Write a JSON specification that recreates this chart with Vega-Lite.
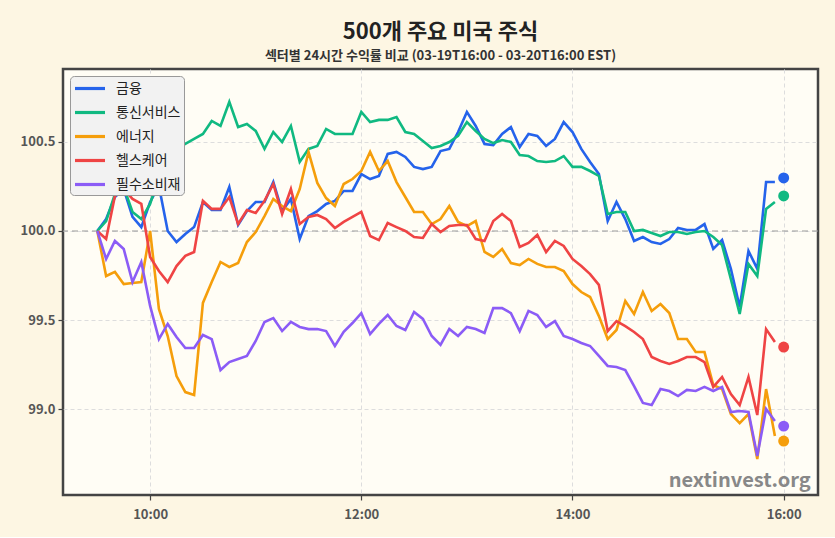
{
"$schema": "https://vega.github.io/schema/vega-lite/v6.json",
"width": 755, "height": 426,
"autosize": {"type": "none"},
"padding": {"left": 63, "top": 69, "right": 17, "bottom": 42},
"background": "#fdf6e3",
"title": {"text": "500개 주요 미국 주식", "subtitle": "섹터별 24시간 수익률 비교 (03-19T16:00 - 03-20T16:00 EST)", "anchor": "middle", "fontSize": 22, "fontWeight": "bold", "color": "#222222", "subtitleFontSize": 13, "subtitleFontWeight": "bold", "subtitleColor": "#333333", "subtitlePadding": 6, "offset": 5, "font": "Noto Sans CJK KR", "subtitleFont": "Noto Sans CJK KR"},
"config": {
  "font": "Noto Sans CJK KR",
  "view": {"fill": "#fffdf5", "stroke": "#444444", "strokeWidth": 2.5},
  "axis": {"domain": false, "grid": true, "gridColor": "#dddddd", "gridDash": [4, 3], "gridWidth": 1, "tickColor": "#444444", "tickSize": 5, "tickWidth": 1.2, "labelColor": "#555555", "labelFontSize": 13, "labelFontWeight": "bold", "labelFont": "Noto Sans CJK KR"}
},
"datasets": {
"series": [
{"t":"09:30","s":"금융","v":100.000},{"t":"09:35","s":"금융","v":100.067},{"t":"09:40","s":"금융","v":100.191},{"t":"09:45","s":"금융","v":100.236},{"t":"09:50","s":"금융","v":100.079},{"t":"09:55","s":"금융","v":100.022},{"t":"10:00","s":"금융","v":100.163},{"t":"10:05","s":"금융","v":100.253},{"t":"10:10","s":"금융","v":100.000},{"t":"10:15","s":"금융","v":99.938},{"t":"10:20","s":"금융","v":99.983},{"t":"10:25","s":"금융","v":100.022},{"t":"10:30","s":"금융","v":100.163},{"t":"10:35","s":"금융","v":100.118},{"t":"10:40","s":"금융","v":100.118},{"t":"10:45","s":"금융","v":100.247},{"t":"10:50","s":"금융","v":100.034},{"t":"10:55","s":"금융","v":100.112},{"t":"11:00","s":"금융","v":100.163},{"t":"11:05","s":"금융","v":100.163},{"t":"11:10","s":"금융","v":100.275},{"t":"11:15","s":"금융","v":100.112},{"t":"11:20","s":"금융","v":100.180},{"t":"11:25","s":"금융","v":99.955},{"t":"11:30","s":"금융","v":100.084},{"t":"11:35","s":"금융","v":100.112},{"t":"11:40","s":"금융","v":100.152},{"t":"11:45","s":"금융","v":100.169},{"t":"11:50","s":"금융","v":100.225},{"t":"11:55","s":"금융","v":100.225},{"t":"12:00","s":"금융","v":100.320},{"t":"12:05","s":"금융","v":100.292},{"t":"12:10","s":"금융","v":100.309},{"t":"12:15","s":"금융","v":100.433},{"t":"12:20","s":"금융","v":100.444},{"t":"12:25","s":"금융","v":100.416},{"t":"12:30","s":"금융","v":100.360},{"t":"12:35","s":"금융","v":100.348},{"t":"12:40","s":"금융","v":100.360},{"t":"12:45","s":"금융","v":100.449},{"t":"12:50","s":"금융","v":100.461},{"t":"12:55","s":"금융","v":100.556},{"t":"13:00","s":"금융","v":100.669},{"t":"13:05","s":"금융","v":100.590},{"t":"13:10","s":"금융","v":100.489},{"t":"13:15","s":"금융","v":100.483},{"t":"13:20","s":"금융","v":100.545},{"t":"13:25","s":"금융","v":100.584},{"t":"13:30","s":"금융","v":100.472},{"t":"13:35","s":"금융","v":100.545},{"t":"13:40","s":"금융","v":100.534},{"t":"13:45","s":"금융","v":100.478},{"t":"13:50","s":"금융","v":100.517},{"t":"13:55","s":"금융","v":100.612},{"t":"14:00","s":"금융","v":100.556},{"t":"14:05","s":"금융","v":100.461},{"t":"14:10","s":"금융","v":100.388},{"t":"14:15","s":"금융","v":100.320},{"t":"14:20","s":"금융","v":100.056},{"t":"14:25","s":"금융","v":100.163},{"t":"14:30","s":"금융","v":100.067},{"t":"14:35","s":"금융","v":99.944},{"t":"14:40","s":"금융","v":99.966},{"t":"14:45","s":"금융","v":99.938},{"t":"14:50","s":"금융","v":99.927},{"t":"14:55","s":"금융","v":99.955},{"t":"15:00","s":"금융","v":100.017},{"t":"15:05","s":"금융","v":100.006},{"t":"15:10","s":"금융","v":100.006},{"t":"15:15","s":"금융","v":100.039},{"t":"15:20","s":"금융","v":99.899},{"t":"15:25","s":"금융","v":99.949},{"t":"15:30","s":"금융","v":99.787},{"t":"15:35","s":"금융","v":99.573},{"t":"15:40","s":"금융","v":99.888},{"t":"15:45","s":"금융","v":99.787},{"t":"15:50","s":"금융","v":100.275},{"t":"15:55","s":"금융","v":100.275},
{"t":"09:30","s":"통신서비스","v":100.000},{"t":"09:35","s":"통신서비스","v":100.056},{"t":"09:40","s":"통신서비스","v":100.208},{"t":"09:45","s":"통신서비스","v":100.247},{"t":"09:50","s":"통신서비스","v":100.107},{"t":"09:55","s":"통신서비스","v":100.067},{"t":"10:00","s":"통신서비스","v":100.152},{"t":"10:05","s":"통신서비스","v":100.303},{"t":"10:10","s":"통신서비스","v":100.404},{"t":"10:15","s":"통신서비스","v":100.461},{"t":"10:20","s":"통신서비스","v":100.489},{"t":"10:25","s":"통신서비스","v":100.517},{"t":"10:30","s":"통신서비스","v":100.545},{"t":"10:35","s":"통신서비스","v":100.618},{"t":"10:40","s":"통신서비스","v":100.590},{"t":"10:45","s":"통신서비스","v":100.725},{"t":"10:50","s":"통신서비스","v":100.584},{"t":"10:55","s":"통신서비스","v":100.601},{"t":"11:00","s":"통신서비스","v":100.562},{"t":"11:05","s":"통신서비스","v":100.461},{"t":"11:10","s":"통신서비스","v":100.556},{"t":"11:15","s":"통신서비스","v":100.500},{"t":"11:20","s":"통신서비스","v":100.590},{"t":"11:25","s":"통신서비스","v":100.388},{"t":"11:30","s":"통신서비스","v":100.461},{"t":"11:35","s":"통신서비스","v":100.478},{"t":"11:40","s":"통신서비스","v":100.573},{"t":"11:45","s":"통신서비스","v":100.545},{"t":"11:50","s":"통신서비스","v":100.545},{"t":"11:55","s":"통신서비스","v":100.545},{"t":"12:00","s":"통신서비스","v":100.669},{"t":"12:05","s":"통신서비스","v":100.612},{"t":"12:10","s":"통신서비스","v":100.624},{"t":"12:15","s":"통신서비스","v":100.624},{"t":"12:20","s":"통신서비스","v":100.640},{"t":"12:25","s":"통신서비스","v":100.556},{"t":"12:30","s":"통신서비스","v":100.545},{"t":"12:35","s":"통신서비스","v":100.506},{"t":"12:40","s":"통신서비스","v":100.466},{"t":"12:45","s":"통신서비스","v":100.478},{"t":"12:50","s":"통신서비스","v":100.500},{"t":"12:55","s":"통신서비스","v":100.534},{"t":"13:00","s":"통신서비스","v":100.612},{"t":"13:05","s":"통신서비스","v":100.562},{"t":"13:10","s":"통신서비스","v":100.517},{"t":"13:15","s":"통신서비스","v":100.494},{"t":"13:20","s":"통신서비스","v":100.511},{"t":"13:25","s":"통신서비스","v":100.500},{"t":"13:30","s":"통신서비스","v":100.427},{"t":"13:35","s":"통신서비스","v":100.421},{"t":"13:40","s":"통신서비스","v":100.393},{"t":"13:45","s":"통신서비스","v":100.388},{"t":"13:50","s":"통신서비스","v":100.393},{"t":"13:55","s":"통신서비스","v":100.421},{"t":"14:00","s":"통신서비스","v":100.360},{"t":"14:05","s":"통신서비스","v":100.360},{"t":"14:10","s":"통신서비스","v":100.337},{"t":"14:15","s":"통신서비스","v":100.309},{"t":"14:20","s":"통신서비스","v":100.096},{"t":"14:25","s":"통신서비스","v":100.107},{"t":"14:30","s":"통신서비스","v":100.107},{"t":"14:35","s":"통신서비스","v":100.000},{"t":"14:40","s":"통신서비스","v":100.006},{"t":"14:45","s":"통신서비스","v":99.989},{"t":"14:50","s":"통신서비스","v":99.972},{"t":"14:55","s":"통신서비스","v":99.994},{"t":"15:00","s":"통신서비스","v":99.994},{"t":"15:05","s":"통신서비스","v":99.983},{"t":"15:10","s":"통신서비스","v":99.994},{"t":"15:15","s":"통신서비스","v":100.000},{"t":"15:20","s":"통신서비스","v":99.966},{"t":"15:25","s":"통신서비스","v":99.921},{"t":"15:30","s":"통신서비스","v":99.730},{"t":"15:35","s":"통신서비스","v":99.534},{"t":"15:40","s":"통신서비스","v":99.815},{"t":"15:45","s":"통신서비스","v":99.747},{"t":"15:50","s":"통신서비스","v":100.124},{"t":"15:55","s":"통신서비스","v":100.163},
{"t":"09:30","s":"에너지","v":100.000},{"t":"09:35","s":"에너지","v":99.747},{"t":"09:40","s":"에너지","v":99.770},{"t":"09:45","s":"에너지","v":99.702},{"t":"09:50","s":"에너지","v":99.708},{"t":"09:55","s":"에너지","v":99.713},{"t":"10:00","s":"에너지","v":100.000},{"t":"10:05","s":"에너지","v":99.562},{"t":"10:10","s":"에너지","v":99.410},{"t":"10:15","s":"에너지","v":99.185},{"t":"10:20","s":"에너지","v":99.095},{"t":"10:25","s":"에너지","v":99.079},{"t":"10:30","s":"에너지","v":99.596},{"t":"10:35","s":"에너지","v":99.713},{"t":"10:40","s":"에너지","v":99.826},{"t":"10:45","s":"에너지","v":99.798},{"t":"10:50","s":"에너지","v":99.820},{"t":"10:55","s":"에너지","v":99.938},{"t":"11:00","s":"에너지","v":99.994},{"t":"11:05","s":"에너지","v":100.084},{"t":"11:10","s":"에너지","v":100.180},{"t":"11:15","s":"에너지","v":100.140},{"t":"11:20","s":"에너지","v":100.112},{"t":"11:25","s":"에너지","v":100.236},{"t":"11:30","s":"에너지","v":100.444},{"t":"11:35","s":"에너지","v":100.270},{"t":"11:40","s":"에너지","v":100.185},{"t":"11:45","s":"에너지","v":100.140},{"t":"11:50","s":"에너지","v":100.264},{"t":"11:55","s":"에너지","v":100.292},{"t":"12:00","s":"에너지","v":100.337},{"t":"12:05","s":"에너지","v":100.444},{"t":"12:10","s":"에너지","v":100.337},{"t":"12:15","s":"에너지","v":100.393},{"t":"12:20","s":"에너지","v":100.275},{"t":"12:25","s":"에너지","v":100.191},{"t":"12:30","s":"에너지","v":100.107},{"t":"12:35","s":"에너지","v":100.107},{"t":"12:40","s":"에너지","v":100.039},{"t":"12:45","s":"에너지","v":100.067},{"t":"12:50","s":"에너지","v":100.140},{"t":"12:55","s":"에너지","v":100.051},{"t":"13:00","s":"에너지","v":100.028},{"t":"13:05","s":"에너지","v":100.056},{"t":"13:10","s":"에너지","v":99.882},{"t":"13:15","s":"에너지","v":99.854},{"t":"13:20","s":"에너지","v":99.899},{"t":"13:25","s":"에너지","v":99.820},{"t":"13:30","s":"에너지","v":99.809},{"t":"13:35","s":"에너지","v":99.843},{"t":"13:40","s":"에너지","v":99.815},{"t":"13:45","s":"에너지","v":99.798},{"t":"13:50","s":"에너지","v":99.798},{"t":"13:55","s":"에너지","v":99.775},{"t":"14:00","s":"에너지","v":99.702},{"t":"14:05","s":"에너지","v":99.657},{"t":"14:10","s":"에너지","v":99.629},{"t":"14:15","s":"에너지","v":99.522},{"t":"14:20","s":"에너지","v":99.393},{"t":"14:25","s":"에너지","v":99.444},{"t":"14:30","s":"에너지","v":99.607},{"t":"14:35","s":"에너지","v":99.534},{"t":"14:40","s":"에너지","v":99.657},{"t":"14:45","s":"에너지","v":99.551},{"t":"14:50","s":"에너지","v":99.590},{"t":"14:55","s":"에너지","v":99.539},{"t":"15:00","s":"에너지","v":99.393},{"t":"15:05","s":"에너지","v":99.393},{"t":"15:10","s":"에너지","v":99.320},{"t":"15:15","s":"에너지","v":99.320},{"t":"15:20","s":"에너지","v":99.135},{"t":"15:25","s":"에너지","v":99.112},{"t":"15:30","s":"에너지","v":98.972},{"t":"15:35","s":"에너지","v":98.921},{"t":"15:40","s":"에너지","v":98.972},{"t":"15:45","s":"에너지","v":98.719},{"t":"15:50","s":"에너지","v":99.112},{"t":"15:55","s":"에너지","v":98.848},
{"t":"09:30","s":"헬스케어","v":100.000},{"t":"09:35","s":"헬스케어","v":99.955},{"t":"09:40","s":"헬스케어","v":100.197},{"t":"09:45","s":"헬스케어","v":100.236},{"t":"09:50","s":"헬스케어","v":100.180},{"t":"09:55","s":"헬스케어","v":100.152},{"t":"10:00","s":"헬스케어","v":99.854},{"t":"10:05","s":"헬스케어","v":99.775},{"t":"10:10","s":"헬스케어","v":99.713},{"t":"10:15","s":"헬스케어","v":99.803},{"t":"10:20","s":"헬스케어","v":99.860},{"t":"10:25","s":"헬스케어","v":99.882},{"t":"10:30","s":"헬스케어","v":100.169},{"t":"10:35","s":"헬스케어","v":100.124},{"t":"10:40","s":"헬스케어","v":100.124},{"t":"10:45","s":"헬스케어","v":100.191},{"t":"10:50","s":"헬스케어","v":100.039},{"t":"10:55","s":"헬스케어","v":100.118},{"t":"11:00","s":"헬스케어","v":100.101},{"t":"11:05","s":"헬스케어","v":100.169},{"t":"11:10","s":"헬스케어","v":100.264},{"t":"11:15","s":"헬스케어","v":100.096},{"t":"11:20","s":"헬스케어","v":100.236},{"t":"11:25","s":"헬스케어","v":100.039},{"t":"11:30","s":"헬스케어","v":100.079},{"t":"11:35","s":"헬스케어","v":100.090},{"t":"11:40","s":"헬스케어","v":100.067},{"t":"11:45","s":"헬스케어","v":100.017},{"t":"11:50","s":"헬스케어","v":100.051},{"t":"11:55","s":"헬스케어","v":100.079},{"t":"12:00","s":"헬스케어","v":100.107},{"t":"12:05","s":"헬스케어","v":99.972},{"t":"12:10","s":"헬스케어","v":99.949},{"t":"12:15","s":"헬스케어","v":100.045},{"t":"12:20","s":"헬스케어","v":100.022},{"t":"12:25","s":"헬스케어","v":100.000},{"t":"12:30","s":"헬스케어","v":99.966},{"t":"12:35","s":"헬스케어","v":99.961},{"t":"12:40","s":"헬스케어","v":100.039},{"t":"12:45","s":"헬스케어","v":99.994},{"t":"12:50","s":"헬스케어","v":100.028},{"t":"12:55","s":"헬스케어","v":100.034},{"t":"13:00","s":"헬스케어","v":100.034},{"t":"13:05","s":"헬스케어","v":99.955},{"t":"13:10","s":"헬스케어","v":99.944},{"t":"13:15","s":"헬스케어","v":100.056},{"t":"13:20","s":"헬스케어","v":100.096},{"t":"13:25","s":"헬스케어","v":100.056},{"t":"13:30","s":"헬스케어","v":99.910},{"t":"13:35","s":"헬스케어","v":99.933},{"t":"13:40","s":"헬스케어","v":99.978},{"t":"13:45","s":"헬스케어","v":99.882},{"t":"13:50","s":"헬스케어","v":99.944},{"t":"13:55","s":"헬스케어","v":99.916},{"t":"14:00","s":"헬스케어","v":99.843},{"t":"14:05","s":"헬스케어","v":99.803},{"t":"14:10","s":"헬스케어","v":99.758},{"t":"14:15","s":"헬스케어","v":99.697},{"t":"14:20","s":"헬스케어","v":99.438},{"t":"14:25","s":"헬스케어","v":99.494},{"t":"14:30","s":"헬스케어","v":99.466},{"t":"14:35","s":"헬스케어","v":99.433},{"t":"14:40","s":"헬스케어","v":99.393},{"t":"14:45","s":"헬스케어","v":99.292},{"t":"14:50","s":"헬스케어","v":99.270},{"t":"14:55","s":"헬스케어","v":99.253},{"t":"15:00","s":"헬스케어","v":99.270},{"t":"15:05","s":"헬스케어","v":99.292},{"t":"15:10","s":"헬스케어","v":99.292},{"t":"15:15","s":"헬스케어","v":99.264},{"t":"15:20","s":"헬스케어","v":99.124},{"t":"15:25","s":"헬스케어","v":99.180},{"t":"15:30","s":"헬스케어","v":99.084},{"t":"15:35","s":"헬스케어","v":99.022},{"t":"15:40","s":"헬스케어","v":99.180},{"t":"15:45","s":"헬스케어","v":98.966},{"t":"15:50","s":"헬스케어","v":99.449},{"t":"15:55","s":"헬스케어","v":99.376},
{"t":"09:30","s":"필수소비재","v":100.000},{"t":"09:35","s":"필수소비재","v":99.843},{"t":"09:40","s":"필수소비재","v":99.944},{"t":"09:45","s":"필수소비재","v":99.899},{"t":"09:50","s":"필수소비재","v":99.713},{"t":"09:55","s":"필수소비재","v":99.826},{"t":"10:00","s":"필수소비재","v":99.579},{"t":"10:05","s":"필수소비재","v":99.393},{"t":"10:10","s":"필수소비재","v":99.478},{"t":"10:15","s":"필수소비재","v":99.404},{"t":"10:20","s":"필수소비재","v":99.343},{"t":"10:25","s":"필수소비재","v":99.343},{"t":"10:30","s":"필수소비재","v":99.416},{"t":"10:35","s":"필수소비재","v":99.393},{"t":"10:40","s":"필수소비재","v":99.219},{"t":"10:45","s":"필수소비재","v":99.264},{"t":"10:50","s":"필수소비재","v":99.281},{"t":"10:55","s":"필수소비재","v":99.298},{"t":"11:00","s":"필수소비재","v":99.382},{"t":"11:05","s":"필수소비재","v":99.489},{"t":"11:10","s":"필수소비재","v":99.511},{"t":"11:15","s":"필수소비재","v":99.438},{"t":"11:20","s":"필수소비재","v":99.489},{"t":"11:25","s":"필수소비재","v":99.461},{"t":"11:30","s":"필수소비재","v":99.449},{"t":"11:35","s":"필수소비재","v":99.449},{"t":"11:40","s":"필수소비재","v":99.438},{"t":"11:45","s":"필수소비재","v":99.354},{"t":"11:50","s":"필수소비재","v":99.433},{"t":"11:55","s":"필수소비재","v":99.483},{"t":"12:00","s":"필수소비재","v":99.539},{"t":"12:05","s":"필수소비재","v":99.421},{"t":"12:10","s":"필수소비재","v":99.478},{"t":"12:15","s":"필수소비재","v":99.528},{"t":"12:20","s":"필수소비재","v":99.466},{"t":"12:25","s":"필수소비재","v":99.444},{"t":"12:30","s":"필수소비재","v":99.545},{"t":"12:35","s":"필수소비재","v":99.506},{"t":"12:40","s":"필수소비재","v":99.410},{"t":"12:45","s":"필수소비재","v":99.360},{"t":"12:50","s":"필수소비재","v":99.449},{"t":"12:55","s":"필수소비재","v":99.410},{"t":"13:00","s":"필수소비재","v":99.461},{"t":"13:05","s":"필수소비재","v":99.449},{"t":"13:10","s":"필수소비재","v":99.427},{"t":"13:15","s":"필수소비재","v":99.567},{"t":"13:20","s":"필수소비재","v":99.567},{"t":"13:25","s":"필수소비재","v":99.539},{"t":"13:30","s":"필수소비재","v":99.438},{"t":"13:35","s":"필수소비재","v":99.551},{"t":"13:40","s":"필수소비재","v":99.528},{"t":"13:45","s":"필수소비재","v":99.461},{"t":"13:50","s":"필수소비재","v":99.494},{"t":"13:55","s":"필수소비재","v":99.410},{"t":"14:00","s":"필수소비재","v":99.393},{"t":"14:05","s":"필수소비재","v":99.371},{"t":"14:10","s":"필수소비재","v":99.354},{"t":"14:15","s":"필수소비재","v":99.298},{"t":"14:20","s":"필수소비재","v":99.242},{"t":"14:25","s":"필수소비재","v":99.236},{"t":"14:30","s":"필수소비재","v":99.219},{"t":"14:35","s":"필수소비재","v":99.129},{"t":"14:40","s":"필수소비재","v":99.034},{"t":"14:45","s":"필수소비재","v":99.022},{"t":"14:50","s":"필수소비재","v":99.112},{"t":"14:55","s":"필수소비재","v":99.101},{"t":"15:00","s":"필수소비재","v":99.073},{"t":"15:05","s":"필수소비재","v":99.107},{"t":"15:10","s":"필수소비재","v":99.101},{"t":"15:15","s":"필수소비재","v":99.124},{"t":"15:20","s":"필수소비재","v":99.101},{"t":"15:25","s":"필수소비재","v":99.124},{"t":"15:30","s":"필수소비재","v":98.983},{"t":"15:35","s":"필수소비재","v":98.989},{"t":"15:40","s":"필수소비재","v":98.983},{"t":"15:45","s":"필수소비재","v":98.736},{"t":"15:50","s":"필수소비재","v":99.000},{"t":"15:55","s":"필수소비재","v":98.933}
],
"last": [
{"t":"16:00","s":"금융","v":100.298},{"t":"16:00","s":"통신서비스","v":100.197},{"t":"16:00","s":"에너지","v":98.820},{"t":"16:00","s":"헬스케어","v":99.348},{"t":"16:00","s":"필수소비재","v":98.904}
]
},
"layer": [
{
  "data": {"values": [{}]},
  "mark": {"type": "rule", "color": "#9a9a9a", "strokeDash": [6, 4], "strokeWidth": 1.2},
  "encoding": {"y": {"datum": 100, "type": "quantitative"}}
},
{
  "data": {"name": "series", "format": {"parse": {"t": "date:'%H:%M'"}}},
  "mark": {"type": "line", "strokeWidth": 2.6, "strokeJoin": "miter"},
  "encoding": {
    "x": {"field": "t", "type": "temporal", "title": null,
      "scale": {"domain": [{"year": 1900, "month": 1, "date": 1, "hours": 9, "minutes": 10, "seconds": 30}, {"year": 1900, "month": 1, "date": 1, "hours": 16, "minutes": 19, "seconds": 30}], "nice": false},
      "axis": {"values": [{"year": 1900, "month": 1, "date": 1, "hours": 10}, {"year": 1900, "month": 1, "date": 1, "hours": 12}, {"year": 1900, "month": 1, "date": 1, "hours": 14}, {"year": 1900, "month": 1, "date": 1, "hours": 16}], "format": "%H:%M", "labelPadding": 8}},
    "y": {"field": "v", "type": "quantitative", "title": null,
      "scale": {"domain": [98.517, 100.91], "nice": false, "zero": false},
      "axis": {"values": [99.0, 99.5, 100.0, 100.5], "format": ".1f", "labelPadding": 3}},
    "color": {"field": "s", "type": "nominal", "sort": null,
      "scale": {"domain": ["금융", "통신서비스", "에너지", "헬스케어", "필수소비재"], "range": ["#2563eb", "#10b981", "#f59e0b", "#ef4444", "#8b5cf6"]},
      "legend": {"title": null, "orient": "none", "legendX": 7, "legendY": 7, "symbolType": "M-1,0H3", "symbolSize": 225, "symbolStrokeWidth": 3.2, "labelFontSize": 14, "labelColor": "#222222", "labelFont": "Noto Sans CJK KR", "rowPadding": 7, "padding": 3, "fillColor": "#f2f2f2", "strokeColor": "#999999", "cornerRadius": 4, "labelOffset": 24}}
  }
},
{
  "data": {"name": "last", "format": {"parse": {"t": "date:'%H:%M'"}}},
  "mark": {"type": "circle", "size": 120, "opacity": 1},
  "encoding": {
    "x": {"field": "t", "type": "temporal"},
    "y": {"field": "v", "type": "quantitative"},
    "color": {"field": "s", "type": "nominal", "legend": null}
  }
},
{
  "data": {"values": [{}]},
  "mark": {"type": "text", "text": "nextinvest.org", "fontSize": 20, "fontWeight": "bold", "color": "#888888", "align": "right", "baseline": "alphabetic", "font": "Noto Sans CJK KR"},
  "encoding": {
    "x": {"datum": {"year": 1900, "month": 1, "date": 1, "hours": 16, "minutes": 15, "seconds": 20}, "type": "temporal"},
    "y": {"datum": 98.56, "type": "quantitative"}
  }
}
]
}
